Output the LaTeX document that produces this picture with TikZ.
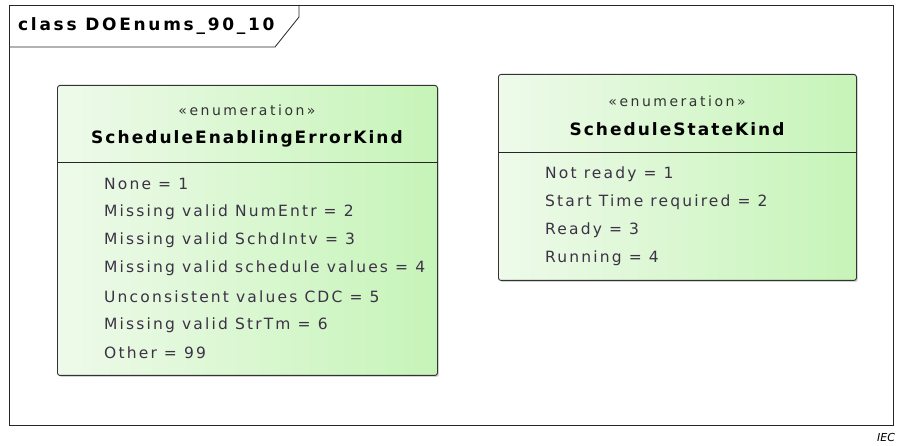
\documentclass[tikz,border=0pt]{standalone}
\usepackage{fontspec}
\setmainfont{DejaVu Sans}
\newfontfamily\titlefont[LetterSpace=16]{DejaVu Sans}
\newfontfamily\namefont[LetterSpace=12]{DejaVu Sans}
\newfontfamily\stereofont[LetterSpace=18]{DejaVu Sans}
\newfontfamily\literalfont[LetterSpace=14]{DejaVu Sans}
\usetikzlibrary{shadows}

\definecolor{boxleft}{RGB}{238,250,234}
\definecolor{boxright}{RGB}{198,244,184}
\definecolor{attrtext}{RGB}{60,50,70}

\tikzset{
  enumbox/.style={draw=black!80, line width=0.9pt, rounded corners=2.5pt,
    left color=boxleft, right color=boxright,
    drop shadow={shadow xshift=1.5pt, shadow yshift=-1.5pt, opacity=0.35}},
  stereo/.style={font=\stereofont\fontsize{14}{16}\selectfont, text=black!80},
  kindname/.style={font=\namefont\fontsize{17}{19}\bfseries\selectfont},
  literal/.style={anchor=west, inner sep=0pt, text=attrtext, font=\literalfont\fontsize{15.5}{17}\selectfont}
}

\begin{document}
\begin{tikzpicture}[x=1pt, y=-1pt]
    \useasboundingbox (0,0) rectangle (900,446);

    % diagram frame
    \draw[line width=0.8pt, black!85] (9,5) rectangle (893,425);
    \draw[line width=0.8pt, black!85] (9,47) -- (275,47) -- (299,17) -- (299,5);
    \node[anchor=west, inner sep=0pt, font=\titlefont\fontsize{17}{19}\bfseries\selectfont] (title) at (18,26) {class DOEnums\_90\_10};

    % enumeration ScheduleEnablingErrorKind
    \node[enumbox, anchor=north west, minimum width=380pt, minimum height=290pt] (errkind) at (57,85) {};
    \draw[line width=0.9pt, black!85] (errkind.west |- 0,162) -- (errkind.east |- 0,162);
    \node[stereo] (errstereo) at (247,110) {«enumeration»};
    \node[kindname] (errname) at (247,139) {ScheduleEnablingErrorKind};
    \foreach \txt [count=\i] in {None = 1, Missing valid NumEntr = 2, Missing valid SchdIntv = 3,
        Missing valid schedule values = 4, Unconsistent values CDC = 5, Missing valid StrTm = 6, Other = 99}
      \node[literal] (errlit\i) at (104,{184+28.2*(\i-1)}) {\txt};

    % enumeration ScheduleStateKind
    \node[enumbox, anchor=north west, minimum width=358pt, minimum height=206pt] (statekind) at (498,74) {};
    \draw[line width=0.9pt, black!85] (statekind.west |- 0,152) -- (statekind.east |- 0,152);
    \node[stereo] (statestereo) at (677,101) {«enumeration»};
    \node[kindname] (statename) at (677,129) {ScheduleStateKind};
    \foreach \txt [count=\i] in {Not ready = 1, Start Time required = 2, Ready = 3, Running = 4}
      \node[literal] (statelit\i) at (545,{174+28*(\i-1)}) {\txt};

    % source mark
    \node[anchor=west, inner sep=0pt, font=\fontsize{11}{12}\itshape\selectfont] (iec) at (877,437) {IEC};

\end{tikzpicture}
\end{document}
